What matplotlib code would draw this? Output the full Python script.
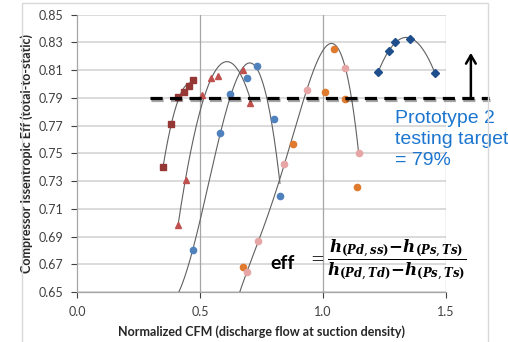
import numpy as np
import matplotlib
matplotlib.use("Agg")
import matplotlib.pyplot as plt
import matplotlib.patheffects as pe
from matplotlib.patches import Rectangle

plt.rcParams["font.family"] = ["Lato", "DejaVu Sans"]
plt.rcParams["mathtext.fontset"] = "dejavuserif"

# ---- data ----
sq_x = [0.350, 0.383, 0.409, 0.435, 0.455, 0.470]
sq_y = [0.740, 0.771, 0.791, 0.794, 0.7985, 0.803]

tri_x = [0.410, 0.443, 0.509, 0.546, 0.575, 0.675, 0.703]
tri_y = [0.698, 0.731, 0.792, 0.804, 0.806, 0.810, 0.786]

blue_x = [0.471, 0.580, 0.621, 0.693, 0.733, 0.801, 0.825]
blue_y = [0.680, 0.765, 0.7925, 0.804, 0.813, 0.7745, 0.719]

orange_x = [0.676, 0.877, 1.010, 1.046, 1.088, 1.138]
orange_y = [0.668, 0.757, 0.794, 0.825, 0.789, 0.726]

pink_x = [0.691, 0.737, 0.843, 0.934, 1.091, 1.145]
pink_y = [0.6647, 0.6866, 0.742, 0.796, 0.8115, 0.750]

dia_x = [1.224, 1.267, 1.291, 1.353, 1.455]
dia_y = [0.8084, 0.8238, 0.830, 0.8327, 0.808]

TARGET = 0.79
y_ticks = np.arange(0.65, 0.851, 0.02)
x_ticks = [0.0, 0.5, 1.0, 1.5]

# trendline extents (fits continue below the visible range for two series)
BLUE_FIT_START = 0.40
PINK_FIT_START = 0.64

fig = plt.figure(figsize=(5.08, 3.42), dpi=100)
ax = fig.add_axes([0.1516, 0.1462, 0.7264, 0.8108])

# outer chart-area frame
fig.patches.append(Rectangle((22 / 508, -0.02), 466 / 508, 1.0 - 3 / 342 + 0.02,
                             transform=fig.transFigure, fill=False,
                             edgecolor="#D9D9D9", lw=1.0, zorder=0))

for yv in y_ticks:
    ax.axhline(yv, color="#D4D4D4", lw=1.2, zorder=0)
for xv in [0.5, 1.0, 1.5]:
    ax.axvline(xv, color="#A6A6A6", lw=0.9, zorder=0)


def trend(xs, ys, deg, x0=None, x1=None):
    c = np.polyfit(xs, ys, deg)
    xx = np.linspace(min(xs) if x0 is None else x0, max(xs) if x1 is None else x1, 200)
    ax.plot(xx, np.polyval(c, xx), color="#606060", lw=0.8, zorder=2)


trend(sq_x, sq_y, 2)
trend(tri_x, tri_y, 2)
trend(blue_x, blue_y, 3, x0=BLUE_FIT_START)
trend(pink_x, pink_y, 4, x0=PINK_FIT_START)
trend(dia_x, dia_y, 2)

ax.plot(sq_x, sq_y, "s", color="#953735", ms=3.8, ls="none", zorder=3)
ax.plot(tri_x, tri_y, "^", color="#C0504D", ms=5, ls="none", zorder=3)
ax.plot(blue_x, blue_y, "o", color="#4F81BD", ms=4.5, ls="none", zorder=3)
ax.plot(orange_x, orange_y, "o", color="#E07A2E", ms=4.5, ls="none", zorder=3)
ax.plot(pink_x, pink_y, "o", color="#E6A6A6", ms=4.5, ls="none", zorder=3)
ax.plot(dia_x, dia_y, "D", color="#1F4E8C", ms=4, ls="none", zorder=3)

# target line and arrow
ax.plot([0.295, 1.676], [TARGET, TARGET], color="black", lw=2.3,
        dashes=(3.8, 2.3), clip_on=False, zorder=4,
        path_effects=[pe.SimpleLineShadow(offset=(0.8, -1.4), alpha=0.35), pe.Normal()])
ax.annotate("", xy=(1.601, 0.8225), xytext=(1.601, TARGET), annotation_clip=False,
            arrowprops=dict(arrowstyle="->,head_width=0.35,head_length=0.6",
                            lw=1.8, color="black", shrinkA=0, shrinkB=0))
ax.text(1.292, 0.781, "Prototype 2\ntesting target\n= 79%", color="#1C76CF",
        fontsize=14, family=["Liberation Sans"], va="top", ha="left",
        linespacing=1.3, zorder=5, clip_on=False)

# efficiency formula
ax.text(0.785, 0.6705, "eff", fontsize=14, fontweight="bold", va="center", ha="left", zorder=5)
ax.text(0.935, 0.6725,
        r"$=\dfrac{\boldsymbol{h}_{\boldsymbol{(Pd,ss)}}\boldsymbol{-}\boldsymbol{h}_{\boldsymbol{(Ps,Ts)}}}"
        r"{\boldsymbol{h}_{\boldsymbol{(Pd,Td)}}\boldsymbol{-}\boldsymbol{h}_{\boldsymbol{(Ps,Ts)}}}$",
        fontsize=12, va="center", ha="left", zorder=5)

ax.set_xlim(0, 1.5)
ax.set_ylim(0.65, 0.85)
ax.set_xticks(x_ticks)
ax.set_xticklabels([f"{v:.1f}" for v in x_ticks])
ax.set_yticks(y_ticks)
ax.set_yticklabels([f"{v:.2f}" for v in y_ticks])
ax.tick_params(axis="both", labelsize=9, colors="#404040", length=4, width=0.8, direction="out")
ax.tick_params(axis="x", pad=6)
ax.tick_params(axis="y", pad=6)
for s in ["top", "right"]:
    ax.spines[s].set_visible(False)
for s in ["left", "bottom"]:
    ax.spines[s].set_color("#A6A6A6")
    ax.spines[s].set_linewidth(0.9)

ax.set_xlabel("Normalized CFM (discharge flow at suction density)", fontsize=9,
              fontweight="bold", color="#262626", labelpad=5)
ax.set_ylabel("Compressor Issentropic Eff (total-to-static)", fontsize=9,
              fontweight="bold", color="#262626", labelpad=4)

fig.savefig("out.png", dpi=100)
